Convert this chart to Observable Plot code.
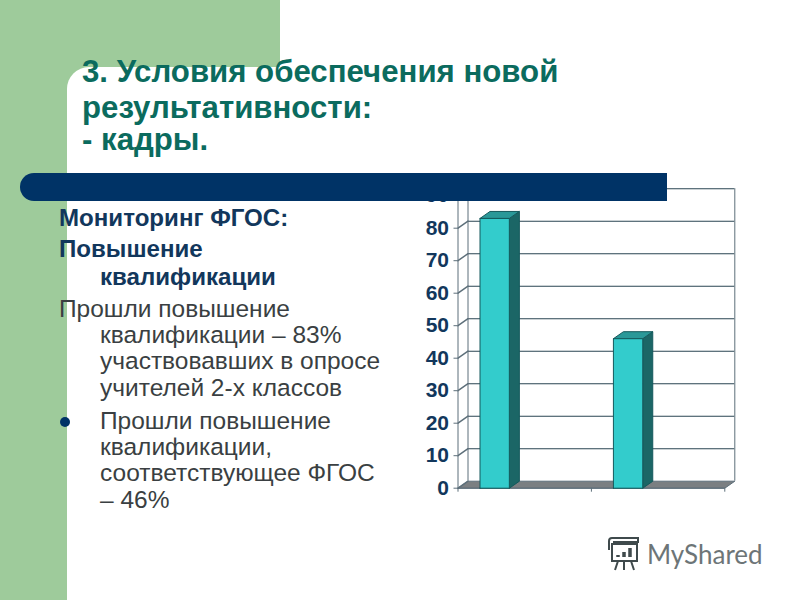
<!DOCTYPE html>
<html lang="ru">
<head>
<meta charset="utf-8">
<script src="https://cdn.jsdelivr.net/npm/d3@7"></script>
<script src="https://cdn.jsdelivr.net/npm/@observablehq/plot@0.6"></script>
<style>
html,body{margin:0;padding:0;background:#fff;}
#slide{position:relative;width:800px;height:600px;overflow:hidden;background:#fff;font-family:"Liberation Sans",Arial,sans-serif;}
.green{position:absolute;background:#9ecb9b;}
.corner{position:absolute;left:67px;top:67px;width:733px;height:533px;background:#fff;border-top-left-radius:22px;}
#band{position:absolute;left:20px;top:173px;width:647px;height:28px;background:#003366;border-radius:14px 0 0 14px;z-index:3;}
#chart{position:absolute;left:0;top:0;z-index:2;}
.line{position:absolute;white-space:nowrap;z-index:4;line-height:1;}
.title{font-weight:bold;font-size:31.2px;color:#0b6b5e;}
.head{font-weight:bold;font-size:24.1px;color:#12375c;}
.body{font-size:24.5px;color:#3a3f42;}
#dot{position:absolute;left:60px;top:417px;width:10px;height:10px;border-radius:50%;background:#003366;z-index:4;}
#mark{position:absolute;left:605px;top:536px;z-index:4;}
#markText{position:absolute;left:647px;top:541px;font-family:Lato,sans-serif;font-size:26px;color:#6d7577;line-height:1;z-index:4;}
</style>
</head>
<body>
<div id="slide">
  <div class="green" style="left:0;top:0;width:280px;height:90px"></div>
  <div class="green" style="left:0;top:0;width:67px;height:600px"></div>
  <div class="corner"></div>
  <div id="band"></div>
  <div id="dot"></div>
  <svg id="mark" width="36" height="36" viewBox="0 0 36 36" fill="none" stroke="#3f4a4c" stroke-width="2">
    <path d="M4 14V5q0-3 3-3h26v4H8"/><rect x="7" y="8" width="25" height="17"/>
    <path d="M13 25l-3 9M19 25v9M26 25l3 9"/>
    <path d="M13 21v-2M19 21v-5M25 21v-9" stroke-width="3.5"/>
  </svg>
  <div id="markText">MyShared</div>
</div>
<script>
const categories = ["Прошли повышение квалификации", "Соответствующее ФГОС"];
const values = [83, 46];
const yTicks = [0, 10, 20, 30, 40, 50, 60, 70, 80, 90];
const titleLines = ["3. Условия обеспечения новой", "результативности:", "- кадры."];
const headLines = ["Мониторинг ФГОС:", "Повышение", "квалификации"];
const bodyLines = ["Прошли повышение", "квалификации – 83%", "участвовавших в опросе", "учителей 2-х классов", "Прошли повышение", "квалификации,", "соответствующее ФГОС", "– 46%"];

// 3D depth of the chart box, in data units
const depthX = 0.075, depthY = 2.154;
const barStart = 0.165, barEnd = 0.385;
const yMax = 90 + depthY, xMax = categories.length + depthX;

const bars = categories.map((c, i) => ({c, v: values[i], x1: i + barStart, x2: i + barEnd}));
const poly = pts => pts.map(([x, y]) => ({x, y}));
const fillPoly = (pts, fill, stroke) => Plot.line(poly([...pts, pts[0]]), {x: "x", y: "y", fill, stroke, strokeWidth: 1, curve: "linear"});

const floor = [[0, 0], [categories.length, 0], [xMax, depthY], [depthX, depthY]];
const gridColor = "#2a4452", axisColor = "#5d6f7a";

const chart = Plot.plot({
  width: 800, height: 600,
  marginLeft: 457.5, marginRight: 65.7, marginTop: 188.2, marginBottom: 112.3,
  style: {background: "transparent", overflow: "visible"},
  x: {type: "linear", domain: [0, xMax], axis: null},
  y: {type: "linear", domain: [0, yMax], axis: null},
  marks: [
    fillPoly(floor, "#7b7f82", "#5d6f7a"),
    Plot.ruleY(yTicks.slice(1), {y: d => d + depthY, x1: depthX, x2: xMax, stroke: gridColor, strokeWidth: 1.1}),
    Plot.ruleX([depthX], {y1: depthY, y2: yMax, stroke: axisColor}),
    Plot.ruleX([xMax], {y1: depthY, y2: yMax, stroke: axisColor}),
    Plot.ruleX([0], {y1: 0, y2: 90, stroke: axisColor}),
    Plot.ruleY([0], {x1: 0, x2: categories.length, stroke: axisColor}),
    ...yTicks.map(t => Plot.line(poly([[0, t], [depthX, t + depthY]]), {x: "x", y: "y", stroke: axisColor})),
    Plot.axisX(d3.range(categories.length + 1), {anchor: "bottom", tickSize: 4, tickFormat: () => "", stroke: axisColor, label: null}),
    Plot.axisY(yTicks, {anchor: "left", tickSize: 4, tickPadding: 5, label: null, stroke: axisColor,
      fontSize: 21, fontWeight: "bold", fontFamily: "Liberation Sans, Arial, sans-serif", fill: "#12375c"}),
    ...bars.flatMap(b => [
      fillPoly([[b.x2, 0], [b.x2 + depthX, depthY], [b.x2 + depthX, b.v + depthY], [b.x2, b.v]], "#1b6666", "#14595c"),
      fillPoly([[b.x1, b.v], [b.x2, b.v], [b.x2 + depthX, b.v + depthY], [b.x1 + depthX, b.v + depthY]], "#2a9898", "#14595c"),
      fillPoly([[b.x1, 0], [b.x2, 0], [b.x2, b.v], [b.x1, b.v]], "#33cccc", "#14595c")
    ])
  ]
});
chart.id = "chart";
const slide = document.getElementById("slide");
slide.appendChild(chart);

const addLines = (lines, cls, positions) => lines.forEach((t, i) => {
  const d = document.createElement("div");
  d.className = "line " + cls;
  d.textContent = t;
  d.style.left = positions[i][0] + "px";
  d.style.top = positions[i][1] + "px";
  slide.appendChild(d);
});
addLines(titleLines, "title", [[82, 56], [82, 92], [82, 124]]);
addLines(headLines, "head", [[59, 206], [59, 237], [100, 265]]);
addLines(bodyLines, "body", [[59, 297], [100, 323], [100, 349], [100, 376], [100, 409], [100, 435], [100, 461], [100, 488]]);
</script>
</body>
</html>
